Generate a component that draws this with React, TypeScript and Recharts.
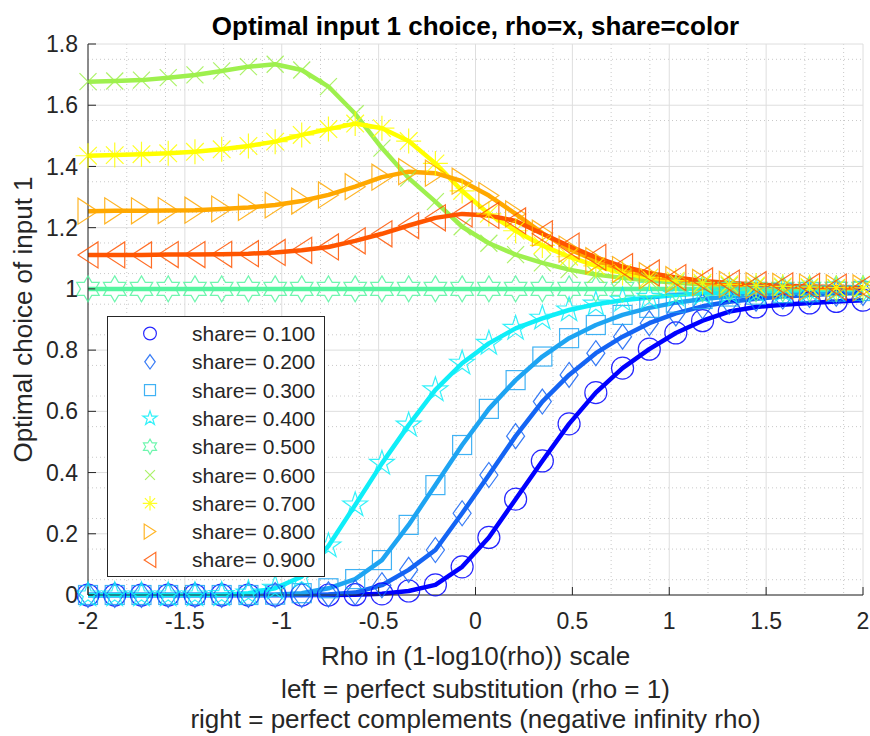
import React from 'react'
import { CartesianGrid, Label, Legend, Line, LineChart, XAxis, YAxis } from 'recharts'

// rho positions (1 - log10(rho) scale), one per marker
const rhoPoints = [-2, -1.862, -1.724, -1.586, -1.448, -1.31, -1.172, -1.034, -0.897, -0.759, -0.621, -0.483, -0.345, -0.207, -0.069,
  0.069, 0.207, 0.345, 0.483, 0.621, 0.759, 0.897, 1.034, 1.172, 1.31, 1.448, 1.586, 1.724, 1.862, 2]

const share10 = [0, 0, 0, 0, 0, 0, 0, 0, 0, 0, 0.001, 0.004, 0.013, 0.033, 0.092, 0.188, 0.313, 0.438, 0.559, 0.661, 0.741, 0.803, 0.856, 0.896, 0.926, 0.941, 0.948, 0.954, 0.959, 0.963]
const share20 = [0, 0, 0, 0, 0, 0, 0, 0, 0, 0.002, 0.008, 0.032, 0.082, 0.147, 0.267, 0.392, 0.519, 0.632, 0.719, 0.79, 0.844, 0.888, 0.92, 0.943, 0.958, 0.968, 0.975, 0.98, 0.984, 0.987]
const share30 = [0, 0, 0, 0, 0, 0, 0, 0.001, 0.006, 0.022, 0.052, 0.114, 0.229, 0.359, 0.49, 0.608, 0.702, 0.779, 0.839, 0.882, 0.915, 0.938, 0.955, 0.967, 0.975, 0.981, 0.986, 0.989, 0.991, 0.993]
const share40 = [0, 0, 0, 0, 0, 0.001, 0.006, 0.022, 0.06, 0.16, 0.294, 0.43, 0.555, 0.67, 0.757, 0.822, 0.871, 0.904, 0.931, 0.95, 0.963, 0.972, 0.98, 0.985, 0.989, 0.992, 0.994, 0.996, 0.997, 0.998]
const share50 = [1, 1, 1, 1, 1, 1, 1, 1, 1, 1, 1, 1, 1, 1, 1, 1, 1, 1, 1, 1, 1, 1, 1, 1, 1, 1, 1, 1, 1, 1]
const share60 = [1.677, 1.679, 1.682, 1.69, 1.699, 1.712, 1.726, 1.734, 1.715, 1.661, 1.572, 1.46, 1.362, 1.285, 1.203, 1.149, 1.112, 1.085, 1.063, 1.047, 1.036, 1.027, 1.02, 1.015, 1.011, 1.008, 1.006, 1.004, 1.003, 1.002]
const share70 = [1.435, 1.437, 1.44, 1.443, 1.448, 1.456, 1.467, 1.481, 1.503, 1.522, 1.54, 1.525, 1.483, 1.41, 1.32, 1.245, 1.19, 1.142, 1.105, 1.075, 1.052, 1.037, 1.027, 1.02, 1.015, 1.011, 1.008, 1.006, 1.004, 1.003]
const share80 = [1.254, 1.255, 1.255, 1.256, 1.257, 1.261, 1.266, 1.274, 1.287, 1.307, 1.334, 1.365, 1.383, 1.378, 1.352, 1.305, 1.245, 1.182, 1.13, 1.092, 1.063, 1.043, 1.03, 1.021, 1.015, 1.011, 1.008, 1.006, 1.004, 1.003]
const share90 = [1.111, 1.111, 1.111, 1.112, 1.112, 1.113, 1.115, 1.119, 1.126, 1.137, 1.157, 1.18, 1.207, 1.232, 1.245, 1.24, 1.222, 1.18, 1.14, 1.103, 1.073, 1.052, 1.037, 1.026, 1.019, 1.014, 1.01, 1.008, 1.006, 1.005]

const shareValues = [share10, share20, share30, share40, share50, share60, share70, share80, share90]
const shareLabels = ['share= 0.100', 'share= 0.200', 'share= 0.300', 'share= 0.400', 'share= 0.500', 'share= 0.600', 'share= 0.700', 'share= 0.800', 'share= 0.900']
const shareColors = ['#0000ff', '#1464f4', '#1ea4f2', '#10eef8', '#55f5a0', '#9ef04e', '#ffff00', '#ffa800', '#ff5500']
const shareMarkers = ['circle', 'diamond', 'square', 'pentagram', 'hexagram', 'x', 'asterisk', 'triRight', 'triLeft']

const xTicks = [-2, -1.5, -1, -0.5, 0, 0.5, 1, 1.5, 2]
const yTicks = [0, 0.2, 0.4, 0.6, 0.8, 1, 1.2, 1.4, 1.6, 1.8]

// minor grid: every 0.1 on x, every 0.05 on y
const xMinor: number[] = []
for (let i = -20; i <= 20; i++) if (i % 5 !== 0) xMinor.push(i / 10)
const yMinor: number[] = []
for (let i = 0; i <= 36; i++) if (i % 4 !== 0) yMinor.push(i / 20)

const chartData = rhoPoints.map((x, i) => {
  const row: { [key: string]: number } = { x }
  shareValues.forEach((vals, s) => { row['s' + s] = vals[i] })
  return row
})

const FONT = '"Liberation Sans", Arial, sans-serif'
const INK = '#262626'

function pts(list: number[][], cx: number, cy: number, k: number) {
  return list.map(([a, b]) => `${cx + a * k},${cy + b * k}`).join(' ')
}

function star(n: number, outer: number, inner: number) {
  const out: number[][] = []
  for (let i = 0; i < n * 2; i++) {
    const r = i % 2 ? inner : outer
    const a = -Math.PI / 2 + (i * Math.PI) / n
    out.push([r * Math.cos(a), r * Math.sin(a)])
  }
  return out
}

function Marker({ kind, cx, cy, color, k = 1 }: { kind: string, cx: number, cy: number, color: string, k?: number }) {
  const st = { fill: 'none', stroke: color, strokeWidth: 1.2, strokeOpacity: 0.85 }
  switch (kind) {
    case 'circle':
      return <circle cx={cx} cy={cy} r={11 * k} {...st} />
    case 'diamond':
      return <polygon points={pts([[0, -12.5], [9, 0], [0, 12.5], [-9, 0]], cx, cy, k)} {...st} />
    case 'square':
      return <rect x={cx - 9.5 * k} y={cy - 9.5 * k} width={19 * k} height={19 * k} {...st} />
    case 'pentagram':
      return <polygon points={pts(star(5, 13, 5), cx, cy, k)} {...st} />
    case 'hexagram':
      return <polygon points={pts(star(6, 13, 7.5), cx, cy, k)} {...st} />
    case 'x': {
      const d = 8.5 * k
      return <path d={`M${cx - d},${cy - d}L${cx + d},${cy + d}M${cx - d},${cy + d}L${cx + d},${cy - d}`} {...st} />
    }
    case 'asterisk': {
      const r = 12.5 * k
      const d = 8.8 * k
      return <path d={`M${cx},${cy - r}L${cx},${cy + r}M${cx - r},${cy}L${cx + r},${cy}M${cx - d},${cy - d}L${cx + d},${cy + d}M${cx - d},${cy + d}L${cx + d},${cy - d}`} {...st} />
    }
    case 'triRight':
      return <polygon points={pts([[10, 0], [-10, -13], [-10, 13]], cx, cy, k)} {...st} />
    default:
      return <polygon points={pts([[-10, 0], [10, -13], [10, 13]], cx, cy, k)} {...st} />
  }
}

function ShareLegend() {
  return <div style={{ width: 218, height: 261, boxSizing: 'border-box', border: `1px solid ${INK}`, background: '#fff' }}>
    <svg width={216} height={259} style={{ display: 'block' }}>
      {shareLabels.map((label, i) => {
        const cy = 16.5 + i * 28.3
        return <g key={label}>
          <Marker kind={shareMarkers[i]} cx={42} cy={cy} color={shareColors[i]} k={0.58} />
          <text x={84} y={cy} dy="0.36em" fontSize={21} fill={INK} fontFamily={FONT}>{label}</text>
        </g>
      })}
    </svg>
  </div>
}

function XTitle({ viewBox }: any) {
  const cx = viewBox.x + viewBox.width / 2
  const y = viewBox.y
  return <text textAnchor="middle" fontSize={26} fill={INK} fontFamily={FONT}>
    <tspan x={cx} y={y + 70}>Rho in (1-log10(rho)) scale</tspan>
    <tspan x={cx} y={y + 103}>left = perfect substitution (rho = 1)</tspan>
    <tspan x={cx} y={y + 133}>right = perfect complements (negative infinity rho)</tspan>
  </text>
}

function YTitle({ viewBox }: any) {
  const cx = viewBox.x + 23.5
  const cy = viewBox.y + viewBox.height / 2
  return <text x={cx} y={cy} textAnchor="middle" fontSize={26} fill={INK} fontFamily={FONT}
    transform={`rotate(-90 ${cx} ${cy})`}>Optimal choice of input 1</text>
}

export default function App() {
  return <div style={{ position: 'absolute', left: 0, top: 0, width: 870, height: 736, background: '#fff' }}>
    <LineChart width={870} height={736} data={chartData}
      margin={{ top: 44, right: 7, left: 8, bottom: 101 }}
      style={{ fontFamily: FONT }}>
      <CartesianGrid stroke="#c9c9c9" strokeDasharray="1 3" horizontalValues={yMinor} verticalValues={xMinor} />
      <CartesianGrid stroke="#dedede" />
      <XAxis dataKey="x" type="number" domain={[-2, 2]} ticks={xTicks} height={40}
        stroke={INK} tickSize={-8} tickMargin={26} tick={{ fill: INK, fontSize: 23 }}
        label={<Label content={XTitle} />} />
      <YAxis type="number" domain={[0, 1.8]} ticks={yTicks} width={80}
        stroke={INK} tickSize={-8} tickMargin={18} tick={{ fill: INK, fontSize: 23 }}
        label={<Label content={YTitle} />} />
      {shareValues.map((_, s) => (
        <Line key={s} type="linear" dataKey={'s' + s} name={shareLabels[s]}
          stroke={shareColors[s]} strokeWidth={4.5} strokeLinejoin="round"
          activeDot={false} isAnimationActive={false}
          dot={(p: any) => <Marker key={`m${s}-${p.index}`} kind={shareMarkers[s]} cx={p.cx} cy={p.cy} color={shareColors[s]} />} />
      ))}
      <Legend layout="horizontal" verticalAlign="middle" align="center"
        wrapperStyle={{ left: 107, top: 316, width: 218, height: 261 }}
        content={() => <ShareLegend />} />
    </LineChart>
    <div style={{ position: 'absolute', left: 88, top: 13, width: 775, textAlign: 'center', fontFamily: FONT, fontWeight: 'bold', fontSize: 26, lineHeight: '26px', color: '#000', whiteSpace: 'nowrap' }}>
      Optimal input 1 choice, rho=x, share=color
    </div>
  </div>
}
